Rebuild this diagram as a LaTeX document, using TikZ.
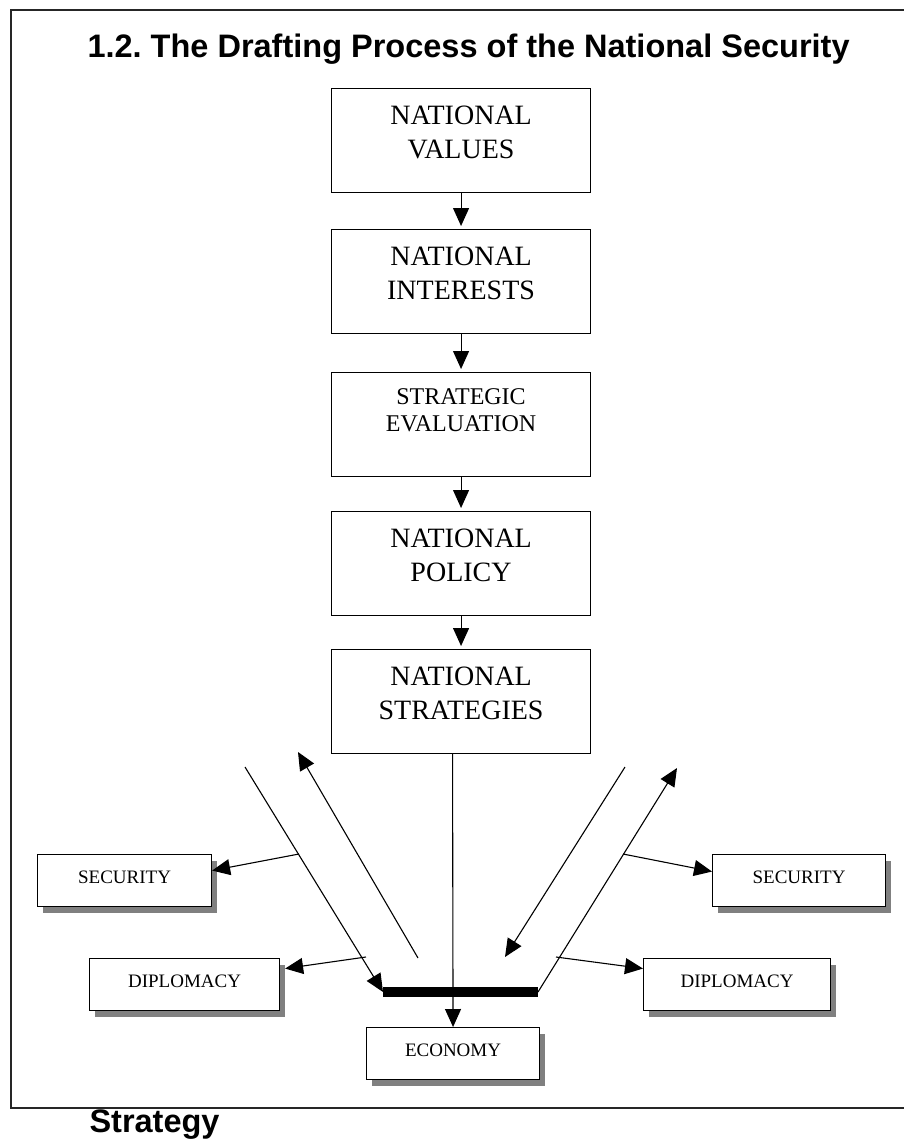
\documentclass[tikz,border=0pt]{standalone}
\usepackage{fontspec}
\setmainfont{Liberation Serif}
\newfontfamily\headfont{Liberation Sans}
\usetikzlibrary{arrows.meta,shadows}

\tikzset{
  bigbox/.style={draw, line width=1.1pt, text width=259pt, align=center, inner sep=0pt,
    text height=36pt, text depth=68pt, font=\fontsize{28}{34}\selectfont},
  smallbox/.style={draw, fill=white, line width=1.1pt, inner sep=0pt, minimum height=52pt,
    text height=14pt, text depth=8pt, font=\fontsize{19}{22}\selectfont,
    drop shadow={shadow xshift=5pt, shadow yshift=-6pt, fill=black!50, opacity=1}},
  flow/.style={line width=1.1pt, -{Triangle[length=18pt,width=16pt]}},
  headline/.style={anchor=base west, font=\headfont\bfseries\fontsize{32.5}{36}\selectfont}
}

\begin{document}
\frenchspacing
\begin{tikzpicture}[x=1pt,y=-1pt]
\useasboundingbox (0,0) rectangle (904,1140);

% frame, runs off the right edge
\draw[line width=2.2pt, black!85] (11,10) rectangle (925,1108);

\node[headline] (head) at (84,57) {1.2. The Drafting Process of the National Security};
\node[headline] (headtail) at (86,1132) {Strategy};

\node[bigbox, anchor=north west] (values) at (331,88) {NATIONAL\\VALUES};
\node[bigbox, anchor=north west] (interests) at (331,229) {NATIONAL\\INTERESTS};
\node[bigbox, anchor=north west, text height=32pt, text depth=72pt,
  font=\fontsize{24}{27}\selectfont] (evaluation) at (331,372) {STRATEGIC\\EVALUATION};
\node[bigbox, anchor=north west] (policy) at (331,511) {NATIONAL\\POLICY};
\node[bigbox, anchor=north west] (strategies) at (331,649) {NATIONAL\\STRATEGIES};

\draw[flow, shorten >=3pt] (values.south) -- (interests.north);
\draw[flow, shorten >=3pt] (interests.south) -- (evaluation.north);
\draw[flow, shorten >=3pt] (evaluation.south) -- (policy.north);
\draw[flow, shorten >=3pt] (policy.south) -- (strategies.north);

\node[smallbox, anchor=north west, minimum width=174pt] (secleft) at (37,854) {SECURITY};
\node[smallbox, anchor=north west, minimum width=173pt] (secright) at (712,854) {SECURITY};
\node[smallbox, anchor=north west, minimum width=190pt] (dipleft) at (89,958) {DIPLOMACY};
\node[smallbox, anchor=north west, minimum width=187pt] (dipright) at (643,958) {DIPLOMACY};
\node[smallbox, anchor=north west, minimum width=173pt] (economy) at (366,1027) {ECONOMY};

\coordinate (barleft) at (383,992);
\coordinate (barright) at (538,992);
\coordinate (lefttop) at (245,767);
\coordinate (leftinbot) at (418,958);
\coordinate (leftintop) at (298,752);
\coordinate (righttop) at (625,767);
\coordinate (rightbot) at (505,957);
\coordinate (rightuptop) at (677,768);
\coordinate (secleftfork) at (299,854);
\coordinate (dipleftfork) at (366,957);
\coordinate (secrightfork) at (623,854);
\coordinate (diprightfork) at (556,957);
\coordinate (stem) at ([xshift=-8.5pt]strategies.south);

\draw[line width=10pt] (barleft) -- (barright);

\draw[flow] (lefttop) -- (barleft);
\draw[flow] (leftinbot) -- (leftintop);
\draw[flow] (righttop) -- (rightbot);
\draw[flow] (barright) -- (rightuptop);
\draw[flow] (stem) -- (economy.north);

\draw[flow] (secleftfork) -- ([yshift=10pt]secleft.east);
\draw[flow] (dipleftfork) -- ([xshift=5pt,yshift=16pt]dipleft.east);
\draw[flow] (secrightfork) -- ([yshift=9pt]secright.west);
\draw[flow] (diprightfork) -- ([yshift=16pt]dipright.west);

\end{tikzpicture}
\end{document}
